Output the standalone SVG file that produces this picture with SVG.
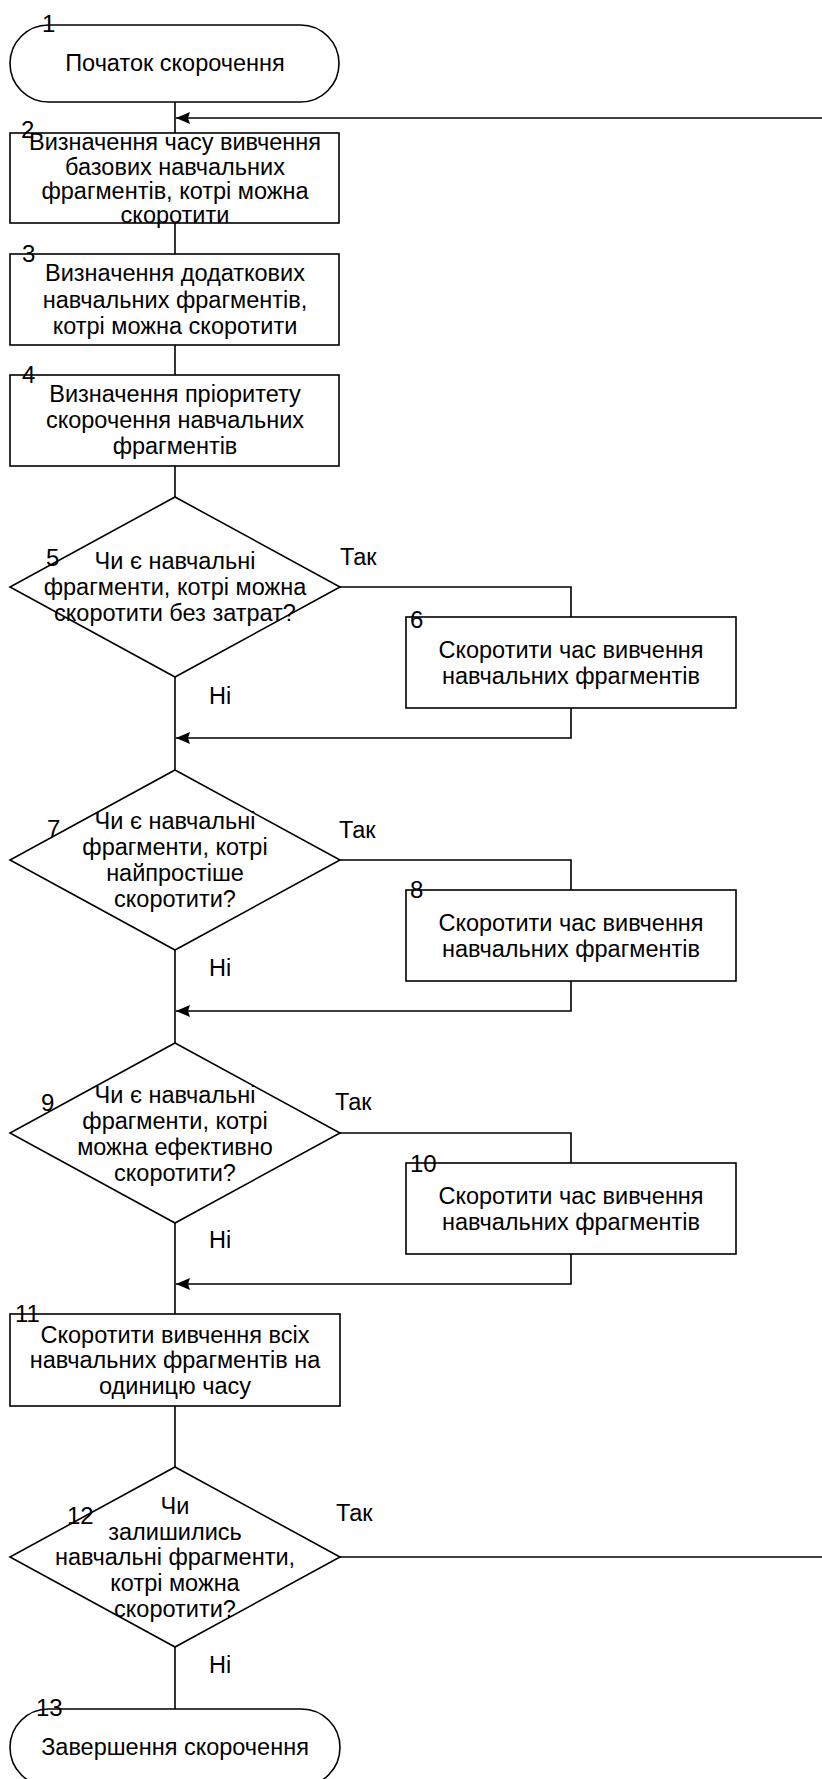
<svg xmlns="http://www.w3.org/2000/svg" width="822" height="1779" viewBox="0 0 822 1779">
<style>
.s{fill:#fff;stroke:#000;stroke-width:1.6}
.c{fill:none;stroke:#000;stroke-width:1.6}
text{font-family:"Liberation Sans",Arial,sans-serif;font-size:23.5px;fill:#000}
.t{text-anchor:middle;dominant-baseline:central}
.n{font-size:24px}
</style>
<defs>
<marker id="ar" markerWidth="15" markerHeight="12" refX="14" refY="6" orient="auto" markerUnits="userSpaceOnUse">
<path d="M0,0 L14,6 L0,12 L2,6 Z" fill="#000"/>
</marker>
</defs>
<rect width="822" height="1779" fill="#fff"/>
<g id="connectors">
<path class="c" d="M175,102 V133"/>
<path class="c" d="M822,118 H176" marker-end="url(#ar)"/>
<path class="c" d="M175,223 V254"/>
<path class="c" d="M175,345 V375"/>
<path class="c" d="M175,466 V497"/>
<path class="c" d="M340,587 H571 V617"/>
<path class="c" d="M175,677 V770"/>
<path class="c" d="M571,708 V738 H176" marker-end="url(#ar)"/>
<path class="c" d="M340,860 H571 V890"/>
<path class="c" d="M175,950 V1043"/>
<path class="c" d="M571,981 V1011 H176" marker-end="url(#ar)"/>
<path class="c" d="M340,1133 H571 V1163"/>
<path class="c" d="M175,1223 V1314"/>
<path class="c" d="M571,1254 V1284 H176" marker-end="url(#ar)"/>
<path class="c" d="M175,1406 V1467"/>
<path class="c" d="M340,1557 H822"/>
<path class="c" d="M175,1647 V1709"/>
<text x="340" y="557" dominant-baseline="central">Так</text>
<text x="209" y="696" dominant-baseline="central">Ні</text>
<text x="339" y="830" dominant-baseline="central">Так</text>
<text x="209" y="968" dominant-baseline="central">Ні</text>
<text x="335" y="1102" dominant-baseline="central">Так</text>
<text x="209" y="1240" dominant-baseline="central">Ні</text>
<text x="336" y="1513" dominant-baseline="central">Так</text>
<text x="209" y="1665" dominant-baseline="central">Ні</text>
</g>
<g id="n1">
<rect class="s" x="10" y="25" width="329" height="77" rx="38.5"/>
<text class="t" x="175" y="63">Початок скорочення</text>
<text class="n" x="42" y="32">1</text>
</g>
<g id="n2">
<rect class="s" x="10" y="133" width="329" height="90"/>
<text class="t" x="175" y="142">Визначення часу вивчення</text>
<text class="t" x="175" y="167">базових навчальних</text>
<text class="t" x="175" y="191">фрагментів, котрі можна</text>
<text class="t" x="175" y="215">скоротити</text>
<text class="n" x="21" y="138">2</text>
</g>
<g id="n3">
<rect class="s" x="10" y="254" width="329" height="91"/>
<text class="t" x="175" y="273">Визначення додаткових</text>
<text class="t" x="175" y="300">навчальних фрагментів,</text>
<text class="t" x="175" y="326">котрі можна скоротити</text>
<text class="n" x="22" y="262">3</text>
</g>
<g id="n4">
<rect class="s" x="10" y="375" width="329" height="91"/>
<text class="t" x="175" y="394">Визначення пріоритету</text>
<text class="t" x="175" y="420">скорочення навчальних</text>
<text class="t" x="175" y="446">фрагментів</text>
<text class="n" x="22" y="383">4</text>
</g>
<g id="n5">
<polygon class="s" points="175,497 340,587 175,677 10,587"/>
<text class="t" x="175" y="561">Чи є навчальні</text>
<text class="t" x="175" y="587">фрагменти, котрі можна</text>
<text class="t" x="175" y="613">скоротити без затрат?</text>
<text class="n" x="46" y="566">5</text>
</g>
<g id="n6">
<rect class="s" x="406" y="617" width="330" height="91"/>
<text class="t" x="571" y="650">Скоротити час вивчення</text>
<text class="t" x="571" y="676">навчальних фрагментів</text>
<text class="n" x="410" y="628">6</text>
</g>
<g id="n7">
<polygon class="s" points="175,770 340,860 175,950 10,860"/>
<text class="t" x="175" y="821">Чи є навчальні</text>
<text class="t" x="175" y="847">фрагменти, котрі</text>
<text class="t" x="175" y="873">найпростіше</text>
<text class="t" x="175" y="899">скоротити?</text>
<text class="n" x="47" y="837">7</text>
</g>
<g id="n8">
<rect class="s" x="406" y="890" width="330" height="91"/>
<text class="t" x="571" y="923">Скоротити час вивчення</text>
<text class="t" x="571" y="949">навчальних фрагментів</text>
<text class="n" x="410" y="898">8</text>
</g>
<g id="n9">
<polygon class="s" points="175,1043 340,1133 175,1223 10,1133"/>
<text class="t" x="175" y="1095">Чи є навчальні</text>
<text class="t" x="175" y="1121">фрагменти, котрі</text>
<text class="t" x="175" y="1147">можна ефективно</text>
<text class="t" x="175" y="1173">скоротити?</text>
<text class="n" x="41" y="1111">9</text>
</g>
<g id="n10">
<rect class="s" x="406" y="1163" width="330" height="91"/>
<text class="t" x="571" y="1196">Скоротити час вивчення</text>
<text class="t" x="571" y="1222">навчальних фрагментів</text>
<text class="n" x="410" y="1172">10</text>
</g>
<g id="n11">
<rect class="s" x="10" y="1314" width="330" height="92"/>
<text class="t" x="175" y="1335">Скоротити вивчення всіх</text>
<text class="t" x="175" y="1360">навчальних фрагментів на</text>
<text class="t" x="175" y="1386">одиницю часу</text>
<text class="n" x="15" y="1322">11</text>
</g>
<g id="n12">
<polygon class="s" points="175,1467 340,1557 175,1647 10,1557"/>
<text class="t" x="175" y="1506">Чи</text>
<text class="t" x="175" y="1532">залишились</text>
<text class="t" x="175" y="1557">навчальні фрагменти,</text>
<text class="t" x="175" y="1583">котрі можна</text>
<text class="t" x="175" y="1609">скоротити?</text>
<text class="n" x="67" y="1524">12</text>
</g>
<g id="n13">
<rect class="s" x="10" y="1709" width="330" height="77" rx="38.5"/>
<text class="t" x="175" y="1747">Завершення скорочення</text>
<text class="n" x="36" y="1716">13</text>
</g>
</svg>
